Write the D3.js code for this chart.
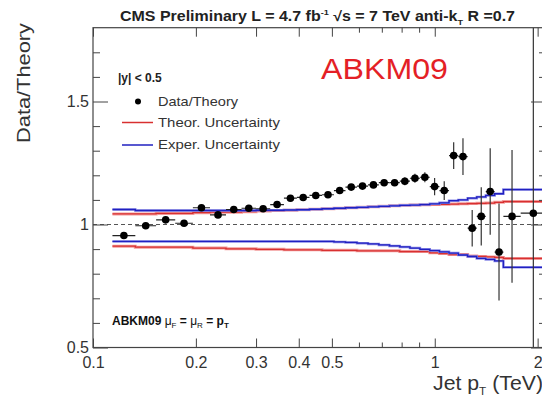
<!DOCTYPE html>
<html><head><meta charset="utf-8">
<script src="https://cdn.jsdelivr.net/npm/d3@7/dist/d3.min.js"></script>
<style>body{margin:0;background:#fff} svg{display:block;font-family:"Liberation Sans",Arial,sans-serif}</style>
</head><body><svg id="c" width="542" height="400"></svg>
<script>
// ---- data (jet pT bins in TeV) ----
const binEdges = [0.114,0.133,0.153,0.174,0.196,0.220,0.245,0.272,0.300,0.330,0.362,0.395,0.430,0.468,0.507,0.548,0.592,0.638,0.686,0.737,0.790,0.846,0.905,0.967,1.032,1.101,1.172,1.248,1.327,1.410,1.497,1.588,1.784,2.116];
const ratio = [0.955,0.995,1.019,1.005,1.068,1.039,1.061,1.066,1.064,1.081,1.107,1.110,1.118,1.121,1.138,1.152,1.156,1.161,1.170,1.170,1.176,1.188,1.192,1.154,1.138,1.280,1.276,0.985,1.033,1.134,0.888,1.033,1.046];
const ratioErr = [0.004,0.004,0.004,0.005,0.005,0.005,0.005,0.005,0.005,0.005,0.006,0.006,0.006,0.007,0.007,0.008,0.009,0.010,0.012,0.014,0.016,0.018,0.020,0.035,0.038,0.054,0.075,0.074,0.118,0.176,0.197,0.270,0.900];
const theorUp = [1.043,1.043,1.045,1.045,1.048,1.050,1.050,1.052,1.055,1.057,1.058,1.060,1.062,1.064,1.066,1.068,1.070,1.072,1.074,1.076,1.078,1.079,1.080,1.081,1.082,1.083,1.084,1.085,1.086,1.087,1.090,1.093,1.093];
const theorDown = [0.912,0.908,0.908,0.908,0.904,0.904,0.901,0.901,0.899,0.899,0.897,0.897,0.897,0.895,0.895,0.895,0.893,0.893,0.893,0.893,0.890,0.890,0.890,0.885,0.882,0.878,0.878,0.872,0.870,0.868,0.866,0.862,0.862];
const experUp = [1.061,1.057,1.057,1.057,1.057,1.057,1.057,1.057,1.058,1.058,1.059,1.060,1.062,1.064,1.066,1.068,1.070,1.072,1.074,1.076,1.078,1.079,1.081,1.084,1.088,1.097,1.100,1.107,1.112,1.118,1.125,1.142,1.142];
const experDown = [0.931,0.931,0.931,0.931,0.931,0.931,0.931,0.931,0.931,0.931,0.931,0.931,0.931,0.931,0.929,0.927,0.924,0.921,0.917,0.913,0.909,0.904,0.899,0.894,0.889,0.884,0.876,0.870,0.862,0.858,0.852,0.826,0.826];
const xTickLabels = [0.1,0.2,0.3,0.4,0.5,1,2];
const xMinorTicks = [0.6,0.7,0.8,0.9];
const yTickLabels = [0.5,1,1.5];
const yMinorTicks = [0.6,0.7,0.8,0.9,1.1,1.2,1.3,1.4,1.6,1.7];

const svg = d3.select("#c");
const L = 93, R = 546, T = 27.7, B = 347.5;
const x = d3.scaleLog().domain([0.1, 2.116]).range([L, R]);
const y = d3.scaleLinear().domain([0.5, 1.8]).range([B, T]);

svg.append("defs").append("clipPath").attr("id","pc")
  .append("rect").attr("x",L).attr("y",T).attr("width",R-L).attr("height",B-T);

// dashed line at 1
svg.append("line").attr("x1",L).attr("x2",R).attr("y1",y(1)).attr("y2",y(1))
  .attr("stroke","#555").attr("stroke-width",1).attr("stroke-dasharray","4,3");

// uncertainty step lines
const step = d3.line().x(d=>x(d[0])).y(d=>y(d[1])).curve(d3.curveStepAfter);
function stepPts(vals){ const p = vals.map((v,i)=>[binEdges[i],v]); p.push([binEdges[binEdges.length-1], vals[vals.length-1]]); return p; }
const g = svg.append("g").attr("clip-path","url(#pc)");
[[theorUp,"#f29a9a",3],[theorDown,"#f29a9a",3],[theorUp,"#d83030",1.3],[theorDown,"#d83030",1.3]].forEach(([v,c,w])=>{
  g.append("path").attr("d",step(stepPts(v))).attr("fill","none").attr("stroke",c).attr("stroke-width",w);
});
[[experUp,"#8c8ce8",2.5],[experDown,"#8c8ce8",2.5],[experUp,"#2020c0",1.3],[experDown,"#2020c0",1.3]].forEach(([v,c,w])=>{
  g.append("path").attr("d",step(stepPts(v))).attr("fill","none").attr("stroke",c).attr("stroke-width",w);
});

// data points
const pts = ratio.map((v,i)=>({lo:binEdges[i],hi:binEdges[i+1],c:Math.sqrt(binEdges[i]*binEdges[i+1]),v,e:ratioErr[i]}));
const dg = g.append("g");
dg.selectAll("line.h").data(pts).join("line").attr("class","h")
  .attr("x1",d=>x(d.lo)).attr("x2",d=>x(d.hi)).attr("y1",d=>y(d.v)).attr("y2",d=>y(d.v))
  .attr("stroke","#222").attr("stroke-width",1.2);
dg.selectAll("line.v").data(pts).join("line").attr("class","v")
  .attr("x1",d=>x(d.c)).attr("x2",d=>x(d.c)).attr("y1",d=>y(d.v-d.e)).attr("y2",d=>y(d.v+d.e))
  .attr("stroke","#333").attr("stroke-width",1.2);
dg.selectAll("circle").data(pts).join("circle")
  .attr("cx",d=>x(d.c)).attr("cy",d=>y(d.v)).attr("r",3.8).attr("fill","#000");

// frame
svg.append("rect").attr("x",L).attr("y",T).attr("width",R-L).attr("height",B-T)
  .attr("fill","none").attr("stroke","#444").attr("stroke-width",1.2);

// axes
const axCol = "#444";
function styleAxis(sel){ sel.select(".domain").remove(); sel.selectAll(".tick line").attr("stroke",axCol); }
const bx = svg.append("g").attr("transform",`translate(0,${B})`)
  .call(d3.axisBottom(x).tickValues(xTickLabels).tickSize(-9).tickPadding(9).tickFormat(d3.format("")));
styleAxis(bx);
bx.selectAll(".tick text").attr("font-size",16).attr("fill","#333").attr("font-family","Liberation Sans, Arial");
svg.append("g").attr("transform",`translate(0,${B})`).call(d3.axisBottom(x).tickValues(xMinorTicks).tickSize(-5).tickFormat("")).call(styleAxis);
svg.append("g").attr("transform",`translate(0,${T})`).call(d3.axisTop(x).tickValues(xTickLabels).tickSize(-9).tickFormat("")).call(styleAxis);
svg.append("g").attr("transform",`translate(0,${T})`).call(d3.axisTop(x).tickValues(xMinorTicks).tickSize(-5).tickFormat("")).call(styleAxis);

const ly = svg.append("g").attr("transform",`translate(${L},0)`)
  .call(d3.axisLeft(y).tickValues(yTickLabels).tickSize(-15).tickPadding(-4).tickFormat(d3.format("")));
styleAxis(ly);
ly.selectAll(".tick text").attr("font-size",16).attr("fill","#333").attr("x",-4).attr("font-family","Liberation Sans, Arial");
svg.append("g").attr("transform",`translate(${L},0)`).call(d3.axisLeft(y).tickValues(yMinorTicks).tickSize(-7).tickFormat("")).call(styleAxis);
svg.append("g").attr("transform",`translate(${R},0)`).call(d3.axisRight(y).tickValues(yTickLabels).tickSize(-15).tickFormat("")).call(styleAxis);
svg.append("g").attr("transform",`translate(${R},0)`).call(d3.axisRight(y).tickValues(yMinorTicks).tickSize(-7).tickFormat("")).call(styleAxis);

// titles
const title = svg.append("text").attr("x",120).attr("y",21).attr("font-size",14).attr("font-weight","bold").attr("fill","#222")
  .attr("textLength",395).attr("lengthAdjust","spacingAndGlyphs");
title.append("tspan").text("CMS Preliminary L = 4.7 fb");
title.append("tspan").attr("font-size",8).attr("dy",-6).text("-1");
title.append("tspan").attr("dy",6).text("  \u221As = 7 TeV anti-k");
title.append("tspan").attr("font-size",8).attr("dy",4).text("T");
title.append("tspan").attr("dy",-4).text(" R =0.7");

svg.append("text").attr("transform","translate(30,143) rotate(-90)").attr("font-size",18).attr("fill","#333")
  .attr("textLength",120).attr("lengthAdjust","spacingAndGlyphs").text("Data/Theory");

const xl = svg.append("text").attr("x",433).attr("y",390).attr("font-size",20).attr("fill","#333")
  .attr("textLength",110).attr("lengthAdjust","spacingAndGlyphs");
xl.append("tspan").text("Jet p");
xl.append("tspan").attr("font-size",11).attr("dy",5).text("T");
xl.append("tspan").attr("dy",-5).text(" (TeV)");

svg.append("text").attr("x",321).attr("y",79).attr("font-size",30).attr("fill","#e41f26")
  .attr("textLength",127).attr("lengthAdjust","spacingAndGlyphs").text("ABKM09");

// legend
svg.append("text").attr("x",118).attr("y",82).attr("font-size",12).attr("font-weight","bold").attr("fill","#222").text("|y| < 0.5");
svg.append("circle").attr("cx",138).attr("cy",101.5).attr("r",3).attr("fill","#000");
svg.append("line").attr("x1",122).attr("x2",153).attr("y1",122.5).attr("y2",122.5).attr("stroke","#d83030").attr("stroke-width",1.5);
svg.append("line").attr("x1",122).attr("x2",153).attr("y1",145).attr("y2",145).attr("stroke","#2020c0").attr("stroke-width",1.5);
[["Data/Theory",106,80],["Theor. Uncertainty",127,122],["Exper. Uncertainty",149,122]].forEach(([t,yy,w])=>{
  svg.append("text").attr("x",158).attr("y",yy).attr("font-size",13.5).attr("fill","#333")
    .attr("textLength",w).attr("lengthAdjust","spacingAndGlyphs").text(t);
});

// bottom-left label
const bl = svg.append("text").attr("x",112).attr("y",325).attr("font-size",12).attr("font-weight","bold").attr("fill","#111");
bl.append("tspan").text("ABKM09 ");
bl.append("tspan").attr("font-weight","normal").text("\u03BC");
bl.append("tspan").attr("font-size",8).attr("font-weight","normal").attr("dy",3).text("F");
bl.append("tspan").attr("dy",-3).text(" = ");
bl.append("tspan").attr("font-weight","normal").text("\u03BC");
bl.append("tspan").attr("font-size",8).attr("font-weight","normal").attr("dy",3).text("R");
bl.append("tspan").attr("dy",-3).text(" = p");
bl.append("tspan").attr("font-size",8).attr("dy",3).text("T");
</script></body></html>
